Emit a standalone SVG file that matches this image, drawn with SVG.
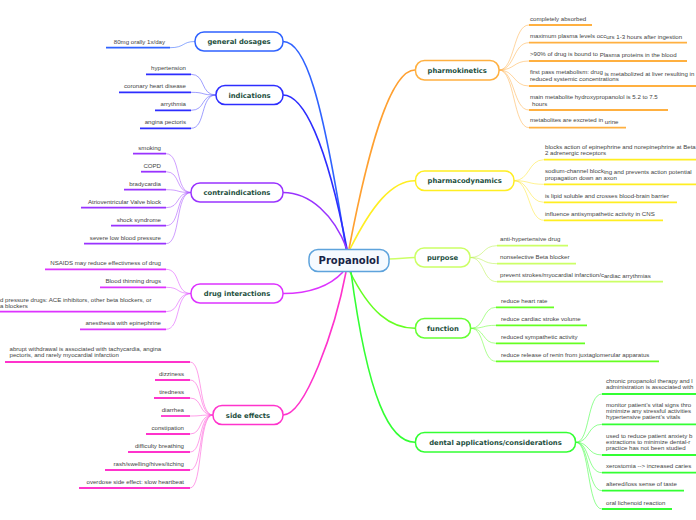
<svg xmlns="http://www.w3.org/2000/svg" width="696" height="520" viewBox="0 0 696 520">
<style>
.bg{fill:#ffffff}
.node rect{fill:#ffffff;stroke-width:1.5}
.node text{font-family:"DejaVu Sans",Verdana,sans-serif;font-weight:bold;font-size:6.8px;fill:#1d4f40;text-anchor:middle}
.root rect{fill:#f6faff;stroke:#5ea3dc;stroke-width:1.5}
.root text{font-family:"DejaVu Sans",Verdana,sans-serif;font-weight:bold;font-size:10px;fill:#172447;text-anchor:middle}
.lf text{font-family:"Liberation Sans",Arial,sans-serif;font-size:6.1px;fill:#444444}
.lf line{stroke-width:1.8}
.L text{text-anchor:end}
.main path{fill:none;stroke-width:1.6}
.sub path{fill:none;stroke-width:0.9;stroke-opacity:0.6}
</style>
<rect class="bg" x="0" y="0" width="696" height="520"/>

<!-- connectors -->
<g id="connectors">
 <g class="main">
  <path d="M283 41.5 C305 41.5 322 95 346 249" stroke="#2f62ff"/>
  <path d="M283 95 C303 95 326 140 347 249" stroke="#2d2dff"/>
  <path d="M283 192.5 C310 192.5 334 215 347 249" stroke="#9933ff"/>
  <path d="M283 293.5 C308 293.5 328 288 343 272" stroke="#dd33ff"/>
  <path d="M283 415 C305 415 335 330 346 272" stroke="#ff33cc"/>
  <path d="M349 249 C368 150 390 70 415 70" stroke="#ffa030"/>
  <path d="M350 249 C372 205 392 180.7 415 180.7" stroke="#ffee22"/>
  <path d="M389 259 C400 259 405 257.5 415 257.5" stroke="#ccff66"/>
  <path d="M350 272 C370 312 390 328.3 415 328.3" stroke="#66ff22"/>
  <path d="M351 272 C368 400 390 442.3 415 442.3" stroke="#33ff33"/>
 </g>
 <g class="sub">
  <path d="M195 41.5 C182 41.5 185 47.7 170 47.7" stroke="#2f62ff"/>
  <g stroke="#4d4dff">
   <path d="M216 95 C200 95 206 74.3 191 74.3"/>
   <path d="M216 95 C200 95 206 92.3 191 92.3"/>
   <path d="M216 95 C200 95 206 110.3 191 110.3"/>
   <path d="M216 95 C200 95 206 128.3 191 128.3"/>
  </g>
  <g stroke="#a64dff">
   <path d="M191 192.5 C175 192.5 181 153.7 166 153.7"/>
   <path d="M191 192.5 C175 192.5 181 171.7 166 171.7"/>
   <path d="M191 192.5 C175 192.5 181 189.7 166 189.7"/>
   <path d="M191 192.5 C175 192.5 181 207.7 166 207.7"/>
   <path d="M191 192.5 C175 192.5 181 225.7 166 225.7"/>
   <path d="M191 192.5 C175 192.5 181 243.7 166 243.7"/>
  </g>
  <g stroke="#dd4dff">
   <path d="M191 293.5 C175 293.5 181 269.3 166 269.3"/>
   <path d="M191 293.5 C175 293.5 181 287.3 166 287.3"/>
   <path d="M191 293.5 C175 293.5 181 311.7 166 311.7"/>
   <path d="M191 293.5 C175 293.5 181 329.3 166 329.3"/>
  </g>
  <g stroke="#ff4dd6">
   <path d="M213 415 C198 415 203 362 190 362"/>
   <path d="M213 415 C198 415 203 380 190 380"/>
   <path d="M213 415 C198 415 203 398 190 398"/>
   <path d="M213 415 C198 415 203 416 190 416"/>
   <path d="M213 415 C198 415 203 434 190 434"/>
   <path d="M213 415 C198 415 203 452 190 452"/>
   <path d="M213 415 C198 415 203 470 190 470"/>
   <path d="M213 415 C198 415 203 488 190 488"/>
  </g>
  <g stroke="#ffb04d">
   <path d="M499 70 C515 70 513 25 529 25"/>
   <path d="M499 70 C515 70 513 42.7 529 42.7"/>
   <path d="M499 70 C515 70 513 61 529 61"/>
   <path d="M499 70 C515 70 513 86 529 86"/>
   <path d="M499 70 C515 70 513 110 529 110"/>
   <path d="M499 70 C515 70 513 127.7 529 127.7"/>
  </g>
  <g stroke="#ffe633">
   <path d="M514 180.7 C530 180.7 528 159.7 544 159.7"/>
   <path d="M514 180.7 C530 180.7 528 184.3 544 184.3"/>
   <path d="M514 180.7 C530 180.7 528 202.3 544 202.3"/>
   <path d="M514 180.7 C530 180.7 528 220.3 544 220.3"/>
  </g>
  <g stroke="#b8f04d">
   <path d="M470 257.5 C485 257.5 482 245.7 497 245.7"/>
   <path d="M470 257.5 C485 257.5 482 263.7 497 263.7"/>
   <path d="M470 257.5 C485 257.5 482 281.7 497 281.7"/>
  </g>
  <g stroke="#66ff33">
   <path d="M471 328.3 C485 328.3 482 307.3 496 307.3"/>
   <path d="M471 328.3 C485 328.3 482 325.3 496 325.3"/>
   <path d="M471 328.3 C485 328.3 482 343.3 496 343.3"/>
   <path d="M471 328.3 C485 328.3 482 361.3 496 361.3"/>
  </g>
  <g stroke="#33ff33">
   <path d="M576 442.3 C590 442.3 587 394 602 394"/>
   <path d="M576 442.3 C590 442.3 587 424.3 602 424.3"/>
   <path d="M576 442.3 C590 442.3 587 455 602 455"/>
   <path d="M576 442.3 C590 442.3 587 472.7 602 472.7"/>
   <path d="M576 442.3 C590 442.3 587 490.7 602 490.7"/>
   <path d="M576 442.3 C590 442.3 587 509 602 509"/>
  </g>
 </g>
</g>

<!-- root -->
<g id="propanolol" class="root">
 <rect x="309" y="249.5" width="80" height="22" rx="9"/>
 <text x="349" y="264">Propanolol</text>
</g>

<!-- branch nodes -->
<g id="general-dosages" class="node"><rect x="195" y="32" width="88" height="19" rx="9" stroke="#2f62ff"/><text x="239" y="44">general dosages</text></g>
<g id="indications" class="node"><rect x="216" y="85.5" width="67" height="19" rx="9" stroke="#2d2dff"/><text x="249.5" y="97.5">indications</text></g>
<g id="contraindications" class="node"><rect x="191" y="183" width="92" height="19" rx="9" stroke="#9933ff"/><text x="237" y="195">contraindications</text></g>
<g id="drug-interactions" class="node"><rect x="191" y="284" width="92" height="19" rx="9" stroke="#dd33ff"/><text x="237" y="296">drug interactions</text></g>
<g id="side-effects" class="node"><rect x="213" y="405.5" width="70" height="19" rx="9" stroke="#ff33cc"/><text x="248" y="417.5">side effects</text></g>
<g id="pharmokinetics" class="node"><rect x="415.5" y="60.5" width="83.5" height="19.5" rx="9" stroke="#ffb040"/><text x="457.2" y="72.7">pharmokinetics</text></g>
<g id="pharmacodynamics" class="node"><rect x="415.5" y="171" width="98.5" height="19.5" rx="9" stroke="#ffee22"/><text x="464.7" y="183.2">pharmacodynamics</text></g>
<g id="purpose" class="node"><rect x="415" y="248" width="55" height="19" rx="9" stroke="#ccff66"/><text x="442.5" y="260">purpose</text></g>
<g id="function" class="node"><rect x="415.5" y="318.5" width="55" height="19.5" rx="9" stroke="#66ff33"/><text x="443" y="330.8">function</text></g>
<g id="dental" class="node"><rect x="415.5" y="432.5" width="160" height="19.5" rx="9" stroke="#33ff33"/><text x="495.5" y="444.8">dental applications/considerations</text></g>

<!-- left leaves -->
<g id="leaf-dosage" class="lf L"><line x1="106" y1="47.7" x2="170" y2="47.7" stroke="#2f62ff"/><text x="165" y="43.5">80mg orally 1x/day</text></g>

<g id="leaves-indications" class="lf L">
 <line x1="146" y1="74.3" x2="191" y2="74.3" stroke="#2d2dff"/><text x="186" y="70.2">hypertension</text>
 <line x1="119" y1="92.3" x2="191" y2="92.3" stroke="#2d2dff"/><text x="186" y="88.2">coronary heart disease</text>
 <line x1="155" y1="110.3" x2="191" y2="110.3" stroke="#2d2dff"/><text x="186" y="106.2">arrythmia</text>
 <line x1="140" y1="128.3" x2="191" y2="128.3" stroke="#2d2dff"/><text x="186" y="124.2">angina pectoris</text>
</g>

<g id="leaves-contraindications" class="lf L">
 <line x1="133" y1="153.7" x2="166" y2="153.7" stroke="#9933ff"/><text x="161" y="149.6">smoking</text>
 <line x1="141" y1="171.7" x2="166" y2="171.7" stroke="#9933ff"/><text x="161" y="167.6">COPD</text>
 <line x1="124" y1="189.7" x2="166" y2="189.7" stroke="#9933ff"/><text x="161" y="185.6">bradycardia</text>
 <line x1="81" y1="207.7" x2="166" y2="207.7" stroke="#9933ff"/><text x="161" y="203.6">Atrioventricular Valve block</text>
 <line x1="111" y1="225.7" x2="166" y2="225.7" stroke="#9933ff"/><text x="161" y="221.6">shock syndrome</text>
 <line x1="84" y1="243.7" x2="166" y2="243.7" stroke="#9933ff"/><text x="161" y="239.6">severe low blood pressure</text>
</g>

<g id="leaves-interactions" class="lf L">
 <line x1="45" y1="269.3" x2="166" y2="269.3" stroke="#dd33ff"/><text x="161" y="265.2">NSAIDS may reduce effectivness of drug</text>
 <line x1="100" y1="287.3" x2="166" y2="287.3" stroke="#dd33ff"/><text x="161" y="283.2">Blood thinning drugs</text>
 <line x1="-5" y1="311.7" x2="166" y2="311.7" stroke="#dd33ff"/>
 <text x="-11.5" y="301.5" style="text-anchor:start">blood pressure drugs: ACE inhibitors, other beta blockers, or</text>
 <text x="-11.5" y="307.5" style="text-anchor:start">alpha blockers</text>
 <line x1="80" y1="329.3" x2="166" y2="329.3" stroke="#dd33ff"/><text x="161" y="325.2">anesthesia with epinephrine</text>
</g>

<g id="leaves-side-effects" class="lf L">
 <line x1="5" y1="362" x2="190" y2="362" stroke="#ff33cc"/>
 <text x="9.5" y="351.2" style="text-anchor:start">abrupt withdrawal is associated with tachycardia, angina</text>
 <text x="9.5" y="357.4" style="text-anchor:start">pectoris, and rarely myocardial infarction</text>
 <line x1="155" y1="380" x2="190" y2="380" stroke="#ff33cc"/><text x="184" y="375.9">dizziness</text>
 <line x1="154" y1="398" x2="190" y2="398" stroke="#ff33cc"/><text x="184" y="393.9">tiredness</text>
 <line x1="161" y1="416" x2="190" y2="416" stroke="#ff33cc"/><text x="184" y="411.9">diarrhea</text>
 <line x1="146" y1="434" x2="190" y2="434" stroke="#ff33cc"/><text x="184" y="429.9">constipation</text>
 <line x1="128" y1="452" x2="190" y2="452" stroke="#ff33cc"/><text x="184" y="447.9">difficulty breathing</text>
 <line x1="105" y1="470" x2="190" y2="470" stroke="#ff33cc"/><text x="184" y="465.9">rash/swelling/hives/itching</text>
 <line x1="79" y1="488" x2="190" y2="488" stroke="#ff33cc"/><text x="184" y="483.9">overdose side effect: slow heartbeat</text>
</g>

<!-- right leaves -->
<g id="leaves-pharmokinetics" class="lf">
 <line x1="529" y1="25" x2="592" y2="25" stroke="#ffb040"/><text x="530" y="20.6">completely absorbed</text>
 <line x1="529" y1="42.7" x2="687" y2="42.7" stroke="#ffb040"/><text x="530" y="37.6">maximum plasma levels occ<tspan dy="1.6">urs 1-3 hours after ingestion</tspan></text>
 <line x1="529" y1="61" x2="687" y2="61" stroke="#ffb040"/><text x="530" y="55.6">&gt;90% of drug is bound to <tspan dy="1.6">Plasma proteins in the blood</tspan></text>
 <line x1="529" y1="86" x2="700" y2="86" stroke="#ffb040"/><text x="530" y="74">first pass metabolism: drug <tspan dy="1.6">is metabolized at liver resulting in</tspan></text>
 <text x="530" y="81.4">reduced systemic concentrations</text>
 <line x1="529" y1="110" x2="668" y2="110" stroke="#ffb040"/><text x="530" y="99.4">main metabolite hydroxypropanolol is 5.2 to 7.5</text>
 <text x="532" y="105.6">hours</text>
 <line x1="529" y1="127.7" x2="626" y2="127.7" stroke="#ffb040"/><text x="530" y="122.2">metabolites are excreted in <tspan dy="1.6">urine</tspan></text>
</g>

<g id="leaves-pharmacodynamics" class="lf">
 <line x1="544" y1="159.7" x2="700" y2="159.7" stroke="#ffee22"/>
 <text x="545" y="149.3">blocks action of epinephrine and norepinephrine at Beta 1 and</text>
 <text x="545" y="155.3">2 adrenergic receptors</text>
 <line x1="544" y1="184.3" x2="700" y2="184.3" stroke="#ffee22"/>
 <text x="545" y="172.6">sodium-channel block<tspan dy="1.6">ing and prevents action potential</tspan></text>
 <text x="545" y="180.2">propagation down an axon</text>
 <line x1="544" y1="202.3" x2="677" y2="202.3" stroke="#ffee22"/><text x="545" y="198">is lipid soluble and crosses blood-brain barrier</text>
 <line x1="544" y1="220.3" x2="663" y2="220.3" stroke="#ffee22"/><text x="545" y="216">influence antisympathetic activity in CNS</text>
</g>

<g id="leaves-purpose" class="lf">
 <line x1="497" y1="245.7" x2="568" y2="245.7" stroke="#ccff66"/><text x="500" y="241.4">anti-hypertensive drug</text>
 <line x1="497" y1="263.7" x2="576" y2="263.7" stroke="#ccff66"/><text x="500" y="259.4">nonselective Beta blocker</text>
 <line x1="497" y1="281.7" x2="663" y2="281.7" stroke="#ccff66"/><text x="500" y="276.6">prevent strokes/myocardial infarction/c<tspan dy="1.4">ardiac arrythmias</tspan></text>
</g>

<g id="leaves-function" class="lf">
 <line x1="496" y1="307.3" x2="554" y2="307.3" stroke="#66ff22"/><text x="501" y="303">reduce heart rate</text>
 <line x1="496" y1="325.3" x2="587" y2="325.3" stroke="#66ff22"/><text x="501" y="321">reduce cardiac stroke volume</text>
 <line x1="496" y1="343.3" x2="585" y2="343.3" stroke="#66ff22"/><text x="501" y="339">reduced sympathetic activity</text>
 <line x1="496" y1="361.3" x2="659" y2="361.3" stroke="#66ff22"/><text x="501" y="357">reduce release of renin from juxtaglomerular apparatus</text>
</g>

<g id="leaves-dental" class="lf">
 <line x1="602" y1="394" x2="700" y2="394" stroke="#33ff33"/>
 <text x="606" y="382.6">chronic propanolol therapy and l</text>
 <text x="606" y="388.9">administration is associated with</text>
 <line x1="602" y1="424.3" x2="700" y2="424.3" stroke="#33ff33"/>
 <text x="606" y="406.9">monitor patient’s vital signs thro</text>
 <text x="606" y="413.1">minimize any stressful activities</text>
 <text x="606" y="419.3">hypertensive patient’s vitals</text>
 <line x1="602" y1="455" x2="700" y2="455" stroke="#33ff33"/>
 <text x="606" y="437.6">used to reduce patient anxiety b</text>
 <text x="606" y="443.8">extractions to minimize dental-r</text>
 <text x="606" y="450">practice has not been studied</text>
 <line x1="602" y1="472.7" x2="700" y2="472.7" stroke="#33ff33"/><text x="606" y="468.4">xerostomia --&gt; increased caries</text>
 <line x1="602" y1="490.7" x2="684" y2="490.7" stroke="#33ff33"/><text x="606" y="486.4">altered/loss sense of taste</text>
 <line x1="602" y1="509" x2="672" y2="509" stroke="#33ff33"/><text x="606" y="504.7">oral lichenoid reaction</text>
</g>
</svg>
